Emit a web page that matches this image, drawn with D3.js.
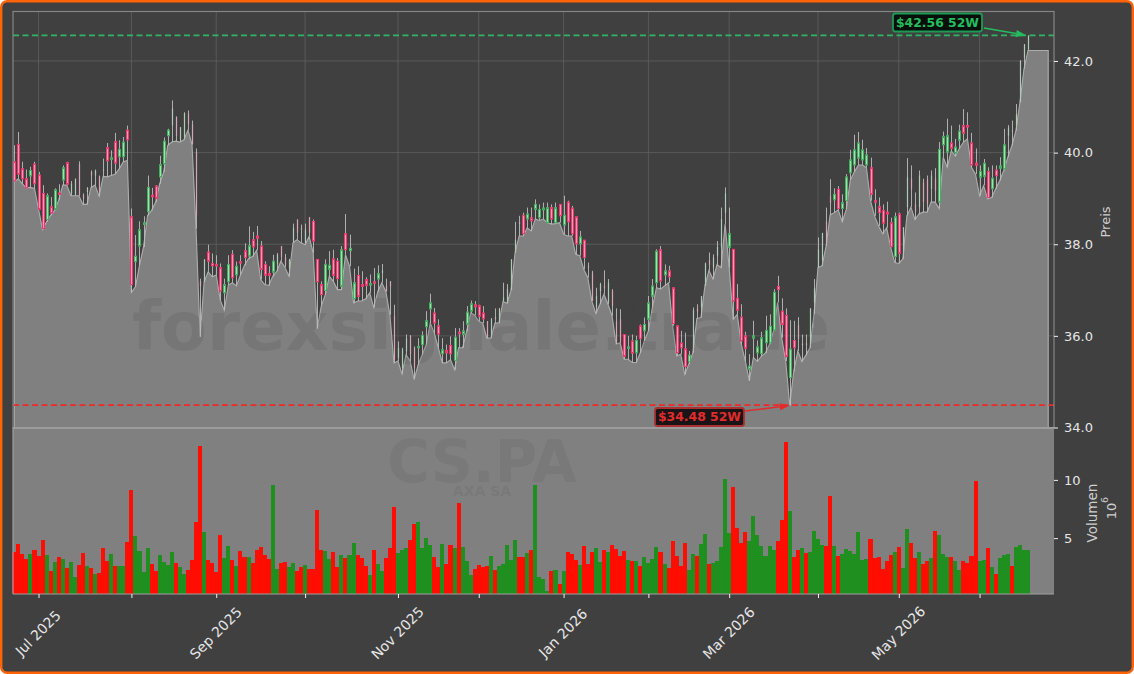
<!DOCTYPE html>
<html>
<head>
<meta charset="utf-8">
<script src="https://cdn.jsdelivr.net/npm/d3@7"></script>
<style>
body { margin: 0; background: #fff; }
svg { display: block; }
text { font-family: "DejaVu Sans", sans-serif; }
</style>
</head>
<body>
<div id="chart"></div>
<script>
// one entry per trading day, Jun 2025 to Jun 2026
var opens = [
39.80,40.18,39.65,39.43,39.49,39.75,39.51,39.11,38.54,38.82,
38.76,39.12,39.40,39.78,39.11,39.08,39.75,39.07,39.14,39.58,
39.50,39.48,39.63,40.11,39.85,40.24,39.91,39.91,40.49,38.60,
37.62,37.96,38.43,38.71,39.07,39.27,39.47,39.75,40.37,40.60,
40.78,40.27,40.33,40.85,40.62,40.01,37.20,37.18,37.83,37.58,
37.56,37.49,36.94,37.18,37.78,37.33,37.62,37.86,37.74,38.10,
38.18,37.96,37.56,37.36,37.39,37.56,37.96,37.72,37.48,38.07,
38.54,38.36,38.03,38.59,38.50,37.67,37.12,36.99,37.45,37.68,
37.63,37.08,38.23,37.86,36.81,37.32,37.12,37.23,37.12,37.18,
37.24,37.37,37.10,37.19,36.43,35.52,35.30,35.66,36.01,35.74,
35.74,35.81,36.20,36.59,36.50,36.22,35.61,35.68,35.79,35.46,
36.08,36.03,36.25,36.54,36.68,36.66,36.50,36.32,36.01,36.41,
36.32,36.76,36.73,37.00,37.82,38.48,38.63,38.55,38.58,38.76,
38.58,38.75,38.47,38.80,38.47,38.87,38.42,38.92,38.79,38.60,
38.01,38.09,37.53,37.38,36.62,36.98,37.09,36.73,36.98,36.33,
36.36,36.03,35.74,35.89,35.63,36.22,36.11,36.36,36.86,37.16,
37.88,37.33,37.42,37.05,36.22,35.84,35.72,35.44,35.74,36.60,
36.62,37.09,37.65,37.49,37.75,37.93,38.69,37.93,37.89,36.82,
36.41,36.00,35.27,35.95,35.63,35.61,35.85,35.85,36.12,37.08,
36.54,36.45,35.09,35.90,36.24,35.82,35.84,35.82,36.73,37.49,
37.64,38.49,39.06,38.97,39.20,38.78,38.95,39.56,39.73,39.88,
39.84,39.73,39.67,38.95,38.82,38.74,38.70,38.47,37.73,38.66,
37.82,38.81,39.43,38.88,38.81,39.35,39.41,39.21,39.43,38.92,
40.17,40.01,40.21,39.99,40.27,40.59,40.59,40.21,39.77,39.46,
39.48,39.59,39.21,39.62,39.66,39.64,40.37,40.49,40.59,41.10,
42.06,42.25];

var highs = [
40.16,40.45,39.80,39.63,39.69,39.80,39.58,39.29,39.11,39.03,
39.22,39.31,39.72,39.80,39.38,39.43,39.81,39.11,39.24,39.61,
39.63,39.50,39.87,40.21,40.05,40.43,40.27,40.34,40.59,38.78,
38.20,38.50,38.61,39.50,39.23,39.29,39.93,40.33,40.52,41.14,
40.79,40.56,40.88,40.92,40.70,40.09,37.25,37.67,37.99,37.80,
37.76,37.58,37.25,37.76,37.87,37.62,37.76,38.02,38.39,38.27,
38.40,38.07,37.63,37.52,37.77,37.81,37.96,37.79,37.68,38.45,
38.54,38.43,38.45,38.59,38.54,37.67,37.19,37.67,37.85,37.88,
37.70,37.96,38.66,38.21,37.47,37.52,37.41,37.28,37.34,37.48,
37.54,37.57,37.25,37.19,36.68,35.88,35.74,36.03,36.01,35.77,
35.95,36.10,36.54,36.92,36.61,36.36,35.95,35.81,35.99,36.17,
36.17,36.32,36.65,36.77,36.76,36.68,36.65,36.32,36.39,36.60,
36.61,37.16,37.13,37.67,38.49,38.62,38.69,38.80,38.80,38.98,
38.87,38.91,38.91,38.87,38.91,38.87,39.06,38.95,38.84,38.60,
38.29,38.09,37.60,37.42,37.05,37.16,37.43,37.24,37.02,36.60,
36.58,36.03,36.00,36.03,36.00,36.25,36.40,36.87,37.24,37.89,
37.96,37.56,37.53,37.05,36.22,36.11,36.07,35.67,36.62,36.69,
36.87,37.60,37.82,37.78,38.07,38.80,39.24,38.80,37.89,37.13,
36.69,36.09,35.60,36.33,35.90,36.09,36.44,36.47,37.02,37.31,
36.82,36.60,36.34,36.33,36.41,36.03,36.03,36.60,37.24,38.15,
38.25,38.80,39.42,39.22,39.27,39.09,39.53,40.06,40.39,40.45,
40.28,40.10,39.89,39.20,39.02,38.87,38.93,38.58,38.69,38.69,
38.37,39.88,39.72,39.13,39.61,39.43,39.50,39.61,39.66,40.23,
40.46,40.74,40.59,40.30,40.61,40.95,40.88,40.43,40.09,39.72,
39.86,39.68,39.72,39.72,39.90,40.52,40.60,40.70,41.06,42.01,
42.37,42.56];

var lows = [
39.36,39.43,39.32,39.23,39.24,39.22,38.76,38.32,38.49,38.63,
38.74,38.96,39.29,39.29,39.06,39.06,39.06,38.87,38.87,39.24,
39.29,39.05,39.48,39.47,39.50,39.53,39.65,39.80,39.83,36.95,
37.07,37.54,37.94,38.63,38.74,38.92,39.32,39.58,40.16,40.23,
40.25,40.23,40.28,40.49,40.18,38.34,35.98,37.18,37.40,37.29,
37.33,36.78,36.56,37.11,37.16,37.09,37.33,37.54,37.69,37.73,
37.87,37.23,37.12,37.10,37.30,37.41,37.63,37.50,37.30,38.03,
38.10,38.03,37.99,38.17,37.81,36.16,36.65,36.90,37.30,37.19,
37.01,37.01,37.77,37.52,36.72,36.76,36.76,36.81,36.94,36.62,
36.97,37.16,36.97,36.46,35.41,35.45,35.17,35.59,35.45,35.05,
35.37,35.59,35.81,36.28,36.06,35.74,35.41,35.41,35.48,35.26,
35.74,35.74,36.10,36.50,36.45,36.32,36.28,35.95,35.95,36.28,
36.28,36.75,36.71,37.00,37.82,38.18,38.18,38.36,38.29,38.55,
38.52,38.55,38.47,38.44,38.45,38.47,38.22,38.18,38.18,37.78,
37.75,37.45,37.27,36.76,36.49,36.69,36.91,36.69,36.44,35.82,
35.85,35.49,35.49,35.42,35.42,35.63,35.89,36.11,36.62,37.05,
37.02,37.09,37.16,36.22,35.56,35.60,35.16,35.38,35.63,36.38,
36.40,37.09,37.43,37.24,37.56,37.49,38.44,37.49,36.36,36.47,
35.82,35.45,35.02,35.53,35.44,35.56,35.63,35.82,36.11,36.73,
35.96,35.45,34.48,35.23,35.67,35.44,35.58,35.74,36.47,37.49,
37.53,37.96,38.64,38.69,38.75,38.49,38.76,39.40,39.58,39.73,
39.73,39.67,38.95,38.62,38.40,38.23,38.36,37.93,37.60,37.58,
37.68,38.62,38.81,38.54,38.66,38.70,38.70,38.92,38.92,38.78,
39.90,39.68,40.04,39.92,40.09,40.23,40.30,39.68,39.53,39.06,
39.28,38.99,39.02,39.21,39.39,39.61,39.90,40.15,40.48,41.10,
41.83,42.23];

var closes = [
39.38,39.53,39.43,39.23,39.61,39.32,38.76,38.34,39.06,38.68,
39.19,39.11,39.67,39.31,39.32,39.43,39.07,39.00,39.24,39.50,
39.61,39.14,39.61,39.82,39.89,39.77,40.07,40.23,40.28,37.12,
37.74,38.32,38.47,39.24,39.05,39.00,39.74,40.25,40.49,40.96,
40.36,40.55,40.86,40.62,40.18,38.63,37.09,37.67,37.63,37.53,
37.53,36.98,37.12,37.56,37.27,37.52,37.59,37.71,37.97,37.94,
38.13,37.45,37.32,37.32,37.63,37.77,37.72,37.54,37.67,38.36,
38.25,38.32,38.32,38.25,38.07,37.18,36.90,37.56,37.54,37.32,
37.25,37.88,37.88,37.91,37.16,36.86,37.08,37.10,37.14,37.16,
37.36,37.43,36.97,37.08,35.48,35.74,35.70,35.95,35.59,35.30,
35.77,36.01,36.33,36.72,36.28,36.04,35.70,35.63,35.61,35.97,
36.05,36.11,36.52,36.70,36.63,36.43,36.37,35.99,36.36,36.36,
36.60,36.84,37.02,37.67,38.09,38.44,38.23,38.66,38.51,38.87,
38.76,38.79,38.80,38.55,38.80,38.62,38.63,38.49,38.23,38.01,
38.16,37.71,37.49,36.76,36.87,37.13,37.04,37.16,36.65,35.85,
35.89,35.55,35.76,35.62,35.90,35.94,36.25,36.72,37.09,37.85,
37.20,37.42,37.29,36.27,35.63,35.74,35.33,35.58,36.56,36.53,
36.87,37.58,37.55,37.71,37.94,38.55,39.11,38.23,36.76,36.56,
35.89,35.73,35.34,36.00,35.76,35.96,36.12,36.21,36.95,37.01,
36.25,35.55,35.71,35.74,35.93,35.83,35.80,36.60,37.04,37.89,
38.24,38.02,38.90,39.09,38.78,38.91,39.47,39.84,40.06,40.21,
40.06,39.95,39.09,38.92,38.69,38.46,38.66,37.95,38.60,37.80,
38.37,39.46,39.21,38.71,39.50,38.92,38.88,39.50,39.17,40.07,
40.35,40.37,40.09,40.12,40.47,40.42,40.57,39.73,39.72,39.59,
39.77,39.02,39.44,39.50,39.71,40.17,40.55,40.46,40.84,42.01,
42.36,42.55];

// million shares
var volumes = [
3.82,4.51,3.65,3.22,3.65,3.99,3.48,4.86,3.56,2.18,
2.96,3.39,3.22,2.44,2.96,1.67,2.70,3.74,2.61,2.44,
1.93,2.01,4.17,3.05,3.65,2.61,2.61,2.61,4.68,9.17,
5.20,3.91,2.10,4.17,2.79,2.18,3.56,2.96,2.70,3.82,
2.88,2.53,1.93,2.27,3.13,6.41,12.87,5.55,3.13,2.87,
2.10,5.29,3.30,4.34,3.13,2.61,3.91,3.39,3.39,2.87,
3.99,4.25,3.56,3.22,9.60,2.36,2.87,2.93,2.53,2.84,
2.18,2.53,2.70,2.36,2.36,7.44,3.99,3.91,3.22,3.82,
2.53,3.56,3.30,3.56,4.60,3.56,3.30,2.61,1.84,3.99,
2.79,2.18,3.30,4.17,7.70,3.74,3.99,4.17,4.86,6.24,
6.41,4.17,5.03,4.43,3.39,2.53,4.51,2.79,4.43,4.17,
8.04,4.25,3.04,1.84,2.36,2.70,2.53,2.61,3.48,2.27,
2.61,2.79,4.43,3.13,4.86,3.39,3.39,3.74,3.99,9.60,
1.67,1.46,0.46,2.18,2.27,1.08,2.18,3.82,3.65,3.13,
2.70,4.34,2.79,3.82,4.17,2.96,3.99,3.82,4.43,4.08,
3.48,3.91,3.13,3.05,3.05,2.61,3.39,2.87,3.22,4.25,
3.82,2.79,2.44,4.77,3.48,2.61,4.60,2.27,3.65,3.48,
4.51,5.37,2.79,2.87,3.05,4.25,10.11,5.46,9.43,5.89,
4.60,5.55,4.77,6.93,5.29,4.34,3.48,4.34,3.99,4.77,
6.58,13.22,7.36,3.39,3.99,4.17,3.74,3.82,5.63,4.94,
4.43,4.34,8.65,4.34,3.48,3.65,4.08,3.91,3.65,5.55,
3.13,3.22,4.94,3.30,3.39,2.36,3.05,3.56,3.82,4.25,
2.40,5.80,4.60,3.30,3.80,2.80,3.00,3.30,5.60,5.29,
3.65,3.36,3.36,3.02,2.27,3.02,2.84,3.48,9.94,3.02,
3.10,4.17,2.50,1.93,3.28,3.56,3.65,2.61,4.25,4.40,
4.02,3.94];

var monthTicks = [6,29,50,72,95,115,136,157,177,199,219,239];
var monthLabels = ['Jul 2025','','Sep 2025','','Nov 2025','','Jan 2026','','Mar 2026','','May 2026',''];
var priceTicks = [34,36,38,40,42];
var volumeTicks = [5,10];

// the grey area stays at the last low for a few empty days after the last bar
var areaEndDay = 256;
var plateauLow = 42.23;
var yearHigh = 42.56;
var yearLow = 34.48;

var width = 1134, height = 674;
var left = 13, right = 1054, priceTop = 11.5, priceBottom = 427.5, volumeBottom = 594;

var days = d3.range(closes.length);

var x = d3.scaleLinear().domain([-0.32,257.43]).range([left,right]);
var yPrice = d3.scaleLinear().domain([34,43.08]).range([priceBottom,priceTop]);
var yVolume = d3.scaleLinear().domain([0.2,14.5]).range([volumeBottom,priceBottom]);

var svg = d3.select('#chart').append('svg')
	.attr('width',width)
	.attr('height',height);

svg.append('rect')
	.attr('x',1.2).attr('y',1.2)
	.attr('width',width-2.4).attr('height',height-2.4)
	.attr('rx',6)
	.attr('fill','#404040')
	.attr('stroke','#ff6308')
	.attr('stroke-width',2.4);

// volume panel background
svg.append('rect')
	.attr('x',left).attr('y',priceBottom)
	.attr('width',right-left).attr('height',volumeBottom-priceBottom)
	.attr('fill','#808080');

// grid
svg.append('g').selectAll('line')
	.data(priceTicks.slice(1))
	.enter().append('line')
	.attr('x1',left).attr('x2',right)
	.attr('y1',yPrice).attr('y2',yPrice)
	.attr('stroke','#606060')
	.attr('stroke-width',0.8);

svg.append('g').selectAll('line')
	.data(monthTicks)
	.enter().append('line')
	.attr('x1',x).attr('x2',x)
	.attr('y1',priceTop).attr('y2',priceBottom)
	.attr('stroke','#606060')
	.attr('stroke-width',0.8);

// area under the lows
var areaPoints = days.map(function(d) { return [d,lows[d]]; });
areaPoints.push([areaEndDay,plateauLow]);

var area = d3.area()
	.x(function(d) { return x(d[0]); })
	.y0(priceBottom)
	.y1(function(d) { return yPrice(d[1]); });

svg.append('path')
	.datum(areaPoints)
	.attr('d',area)
	.attr('fill','#808080');

var outline = [[0,34]].concat(areaPoints,[[areaEndDay,34]]);
svg.append('path')
	.datum(outline)
	.attr('d',d3.line()
		.x(function(d) { return x(d[0]); })
		.y(function(d) { return yPrice(d[1]); }))
	.attr('fill','none')
	.attr('stroke','#adadad')
	.attr('stroke-width',1.1);

// watermarks
svg.append('text')
	.attr('x',481).attr('y',350)
	.attr('text-anchor','middle')
	.attr('font-size',67)
	.attr('font-weight','bold')
	.attr('fill','#404040')
	.attr('opacity',0.14)
	.text('forexsignale.trade');

svg.append('text')
	.attr('x',482).attr('y',482)
	.attr('text-anchor','middle')
	.attr('font-size',58)
	.attr('font-weight','bold')
	.attr('fill','#404040')
	.attr('opacity',0.1)
	.text('CS.PA');

svg.append('text')
	.attr('x',482).attr('y',496)
	.attr('text-anchor','middle')
	.attr('font-size',14)
	.attr('font-weight','bold')
	.attr('fill','#404040')
	.attr('opacity',0.1)
	.text('AXA SA');

// candles: wick then body
var candles = svg.append('g').selectAll('g')
	.data(days)
	.enter().append('g');

candles.append('line')
	.attr('x1',function(d) { return Math.round(x(d))+0.5; })
	.attr('x2',function(d) { return Math.round(x(d))+0.5; })
	.attr('y1',function(d) { return yPrice(highs[d]); })
	.attr('y2',function(d) { return yPrice(lows[d]); })
	.attr('stroke','#bcbcbc')
	.attr('stroke-width',0.9);

// the bodies land on the pixel grid in the picture: those whose x falls near a
// whole pixel shrink to one pale column
function isPale(d) {
	var frac = x(d)%1;
	return frac>=0.8 || frac<=0.15;
}
function isUp(d) {
	return closes[d]>=opens[d];
}

candles.append('rect')
	.attr('x',function(d) { return Math.round(x(d))+(isPale(d) ? -0.1 : -0.5); })
	.attr('width',function(d) { return isPale(d) ? 1.2 : 2; })
	.attr('y',function(d) { return yPrice(Math.max(opens[d],closes[d])); })
	.attr('height',function(d) { return Math.max(1.5,Math.abs(yPrice(opens[d])-yPrice(closes[d]))); })
	.attr('fill',function(d) {
		if(isPale(d)) return isUp(d) ? '#aecbb5' : '#d6a6b4';
		return isUp(d) ? '#a3e0af' : '#fa9ab4';
	})
	.attr('stroke',function(d) {
		if(isPale(d)) return 'none';
		return isUp(d) ? '#47ad63' : '#f2386f';
	})
	.attr('stroke-width',1);

// 52 week lines
svg.append('line')
	.attr('x1',left).attr('x2',right)
	.attr('y1',yPrice(yearHigh)).attr('y2',yPrice(yearHigh))
	.attr('stroke','#2fb565')
	.attr('stroke-width',1.7)
	.attr('stroke-dasharray','6,3.5');

svg.append('line')
	.attr('x1',left).attr('x2',right)
	.attr('y1',yPrice(yearLow)-0.3).attr('y2',yPrice(yearLow)-0.3)
	.attr('stroke','#ec2a2a')
	.attr('stroke-width',1.7)
	.attr('stroke-dasharray','6,3.5');

// volume bars
svg.append('g').selectAll('rect')
	.data(days)
	.enter().append('rect')
	.attr('x',function(d) { return x(d-0.5); })
	.attr('width',x(1)-x(0))
	.attr('y',function(d) { return yVolume(volumes[d]); })
	.attr('height',function(d) { return volumeBottom-yVolume(volumes[d]); })
	.attr('fill',function(d) { return isUp(d) ? '#1f8f1f' : '#ff0d00'; })
	.attr('shape-rendering','crispEdges');

// panel edges
svg.append('rect')
	.attr('x',left).attr('y',priceTop)
	.attr('width',right-left).attr('height',priceBottom-priceTop)
	.attr('fill','none')
	.attr('stroke','#858585')
	.attr('stroke-width',1.2);

svg.append('line')
	.attr('x1',left).attr('x2',right)
	.attr('y1',priceBottom+0.5).attr('y2',priceBottom+0.5)
	.attr('stroke','#9c9c9c')
	.attr('stroke-width',2);

svg.append('line')
	.attr('x1',left).attr('x2',left)
	.attr('y1',priceBottom).attr('y2',volumeBottom)
	.attr('stroke','#a0a0a0')
	.attr('stroke-width',1.2);

svg.append('line')
	.attr('x1',left).attr('x2',right)
	.attr('y1',volumeBottom).attr('y2',volumeBottom)
	.attr('stroke','#a0a0a0')
	.attr('stroke-width',1.2);

// axes
var priceAxis = d3.axisRight(yPrice)
	.tickValues(priceTicks)
	.tickFormat(d3.format('.1f'))
	.tickSize(4)
	.tickPadding(6);

var volumeAxis = d3.axisRight(yVolume)
	.tickValues(volumeTicks)
	.tickFormat(d3.format('d'))
	.tickSize(4)
	.tickPadding(6);

var monthAxis = d3.axisBottom(x)
	.tickValues(monthTicks)
	.tickFormat(function(d,i) { return monthLabels[i]; })
	.tickSize(4);

function styleAxis(g) {
	g.select('.domain').remove();
	g.selectAll('.tick line').attr('stroke','#f0f0f0').attr('stroke-width',1);
	g.selectAll('.tick text')
		.attr('fill','#e6e6e6')
		.attr('font-size',13)
		.attr('font-family','"DejaVu Sans", sans-serif');
}

svg.append('g').attr('transform','translate('+right+',0)').call(priceAxis).call(styleAxis);
svg.append('g').attr('transform','translate('+right+',0)').call(volumeAxis).call(styleAxis);

var monthG = svg.append('g').attr('transform','translate(0,'+volumeBottom+')').call(monthAxis).call(styleAxis);
monthG.selectAll('.tick text')
	.attr('text-anchor','middle')
	.attr('dy',null)
	.attr('y',0)
	.attr('font-size',14)
	.attr('dominant-baseline','central')
	.attr('transform','translate(-1,39) rotate(-45)');

// axis titles
function rotatedText(px,py,size,label) {
	return svg.append('text')
		.attr('transform','translate('+px+','+py+') rotate(-90)')
		.attr('text-anchor','middle')
		.attr('font-size',size)
		.attr('fill','#cfcfcf')
		.text(label);
}
rotatedText(1110,222,13,'Preis');
rotatedText(1097,513,13.5,'Volumen');
rotatedText(1116,511,13,'10');
rotatedText(1108,500,9.5,'6');

// labels with arrows
function priceLabel(text,boxX,boxY,ax,ay,bx,by,stroke,fill,arrow) {
	var g = svg.append('g');
	g.append('rect')
		.attr('x',boxX).attr('y',boxY)
		.attr('width',89).attr('height',18)
		.attr('rx',2.5)
		.attr('fill',fill)
		.attr('stroke',stroke)
		.attr('stroke-width',1.8);
	g.append('text')
		.attr('x',boxX+44.5).attr('y',boxY+13.4)
		.attr('text-anchor','middle')
		.attr('font-size',12.4)
		.attr('font-weight','bold')
		.attr('fill',arrow)
		.text(text);
	var angle = Math.atan2(by-ay,bx-ax);
	var backX = bx-Math.cos(angle)*10, backY = by-Math.sin(angle)*10;
	var nx = -Math.sin(angle)*3.6, ny = Math.cos(angle)*3.6;
	g.append('line')
		.attr('x1',ax).attr('y1',ay)
		.attr('x2',backX).attr('y2',backY)
		.attr('stroke',arrow)
		.attr('stroke-width',1.5);
	g.append('path')
		.attr('d','M'+bx+','+by+'L'+(backX+nx)+','+(backY+ny)+'L'+(backX-nx)+','+(backY-ny)+'Z')
		.attr('fill',arrow);
}

var lastX = x(closes.length-1);
var lowDay = lows.indexOf(yearLow);

priceLabel('$42.56 52W',893,13.5,984,28,lastX-2,yPrice(yearHigh),'#1e9a55','#070f0a','#24bd5e');
priceLabel('$34.48 52W',655,408,745,411,x(lowDay),yPrice(yearLow),'#a83232','#1b1416','#e22c2c');
</script>
</body>
</html>
